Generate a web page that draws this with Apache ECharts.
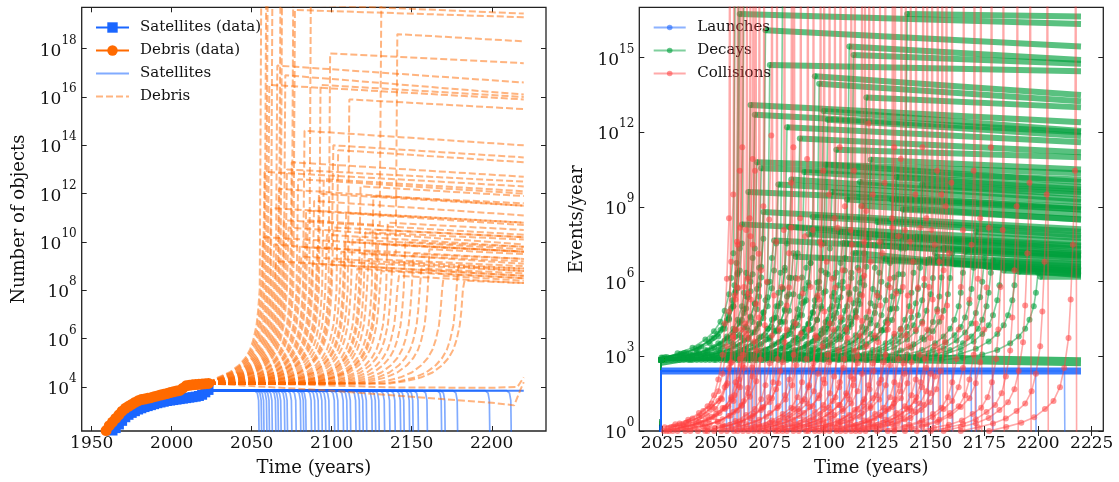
<!DOCTYPE html>
<html>
<head>
<meta charset="utf-8">
<script src="https://cdn.jsdelivr.net/npm/echarts@6/dist/echarts.min.js"></script>
<style>
  html, body { margin: 0; padding: 0; background: #fff; }
  #chart { width: 1119px; height: 482px; }
</style>
</head>
<body>
<div id="chart"></div>
<script>
// all values are log10 of the plotted quantity

// observed catalogue (left panel)
const dataYears = [1959, 1961, 1963, 1965, 1967, 1969, 1971, 1973, 1975, 1977, 1979, 1981, 1983, 1985, 1987, 1989, 1991,
  1993, 1995, 1997, 1999, 2001, 2003, 2005, 2007, 2009, 2011, 2013, 2015, 2017, 2019, 2021, 2023];
const satData = [1.9, 2.05, 2.2, 2.3, 2.45, 2.6, 2.75, 2.85, 2.93, 3.0, 3.07, 3.12, 3.17, 3.21, 3.25, 3.29, 3.33,
  3.36, 3.39, 3.42, 3.44, 3.46, 3.48, 3.5, 3.52, 3.54, 3.56, 3.58, 3.6, 3.63, 3.68, 3.78, 3.88];
const debrisData = [2.2, 2.4, 2.55, 2.7, 2.85, 3.0, 3.12, 3.2, 3.28, 3.36, 3.43, 3.48, 3.5, 3.53, 3.56, 3.6, 3.63,
  3.67, 3.7, 3.73, 3.77, 3.8, 3.83, 3.86, 3.95, 4.05, 4.07, 4.09, 4.1, 4.11, 4.12, 4.14, 4.15];

// simulated runs: satellites hold a level, then crash in these years
const satLevel = 3.85;
const satCrashYears = [2054.7, 2056.3, 2057.8, 2059.6, 2061.2, 2063, 2065.2, 2066.8, 2068.5, 2070.8, 2072.5, 2075.2,
  2077.9, 2080.8, 2082.6, 2084.1, 2087.5, 2089.7, 2091.9, 2094.2, 2096.4, 2098.6, 2102, 2104.2, 2107.5, 2109.8,
  2112, 2115.3, 2117.6, 2119.8, 2122, 2125.4, 2127.6, 2129.8, 2133.2, 2136.5, 2139.8, 2143.2, 2145.4, 2148.8,
  2151, 2154.3, 2159.9, 2168.8, 2171, 2178.8, 2198.9, 2212.3];
const satDropDt = [-3, -1.2, -0.4, 0];
const satDropLevel = [3.85, 3.75, 3.45, 1.5];

// debris runs: shared run-up shape before the blow-up year, then each run's own tail
const debrisBase = 4.15;
const runupDt = [-45, -35, -26, -19, -13, -9, -6, -4, -2, -1, 0];
const runupRise = [0.0, 0.1, 0.25, 0.45, 0.75, 1.05, 1.4, 1.8, 2.4, 3.0, 3.9];
const debrisRuns = [
  [2055, [[2056, 21.0]]],
  [2056, [[2057, 10.2], [2220, 9.6]]],
  [2057, [[2058, 12.9], [2220, 12.3]]],
  [2058, [[2059, 19.9], [2220, 19.45]]],
  [2059, [[2060, 21.0]]],
  [2060, [[2061, 16.5], [2220, 15.9]]],
  [2061, [[2062, 11.4], [2220, 10.8]]],
  [2062, [[2063, 21.5]]],
  [2063, [[2064, 9.9], [2100, 9.7], [2101, 14.0], [2220, 13.5]]],
  [2064, [[2065, 9.2], [2220, 8.6]]],
  [2065, [[2066, 17.3], [2220, 16.6]]],
  [2066, [[2067, 12.2], [2220, 11.5]]],
  [2067, [[2068, 21.0]]],
  [2068, [[2069, 21.0]]],
  [2069, [[2070, 10.9], [2220, 10.3]]],
  [2070, [[2071, 16.9], [2220, 16.1]]],
  [2071, [[2072, 13.0], [2220, 12.5]]],
  [2072, [[2073, 10.6], [2220, 9.9]]],
  [2074, [[2075, 13.3], [2220, 12.7]]],
  [2075, [[2076, 21.0]]],
  [2076, [[2077, 19.6], [2220, 19.3]]],
  [2078, [[2079, 12.6], [2220, 12.0]]],
  [2079, [[2080, 9.8], [2220, 9.3]]],
  [2080, [[2081, 9.4], [2220, 8.8]]],
  [2082, [[2083, 14.6], [2220, 14.0]]],
  [2083, [[2084, 11.3], [2220, 10.7]]],
  [2084, [[2085, 10.9], [2130, 10.7], [2131, 19.9]]],
  [2086, [[2087, 21.0]]],
  [2087, [[2088, 9.1], [2220, 8.6]]],
  [2088, [[2089, 11.7], [2220, 11.1]]],
  [2090, [[2091, 9.8], [2140, 9.5], [2141, 18.6], [2220, 18.3]]],
  [2091, [[2092, 12.0], [2220, 11.5]]],
  [2092, [[2093, 16.5], [2220, 16.0]]],
  [2094, [[2095, 12.6], [2220, 12.1]]],
  [2096, [[2097, 10.3], [2220, 9.8]]],
  [2098, [[2099, 17.8], [2220, 17.4]]],
  [2099, [[2100, 9.2], [2220, 8.8]]],
  [2100, [[2101, 10.6], [2220, 10.2]]],
  [2103, [[2104, 13.8], [2220, 13.3]]],
  [2105, [[2106, 9.6], [2220, 9.1]]],
  [2107, [[2108, 10.0], [2220, 9.6]]],
  [2108, [[2109, 11.2], [2220, 10.8]]],
  [2110, [[2111, 15.9], [2220, 15.5]]],
  [2112, [[2113, 10.1], [2220, 9.7]]],
  [2115, [[2116, 8.9], [2220, 8.5]]],
  [2117, [[2118, 12.3], [2220, 11.9]]],
  [2118, [[2119, 9.5], [2220, 9.2]]],
  [2120, [[2121, 10.4], [2220, 10.1]]],
  [2122, [[2123, 9.3], [2220, 9.0]]],
  [2125, [[2126, 11.9], [2220, 11.6]]],
  [2127, [[2128, 10.5], [2220, 10.2]]],
  [2128, [[2129, 9.9], [2220, 9.6]]],
  [2130, [[2131, 8.8], [2220, 8.5]]],
  [2134, [[2135, 10.8], [2220, 10.5]]],
  [2137, [[2138, 9.2], [2220, 8.9]]],
  [2141, [[2142, 8.6], [2220, 8.3]]],
  [2145, [[2146, 10.0], [2220, 9.8]]],
  [2150, [[2151, 9.5], [2220, 9.3]]],
  [2155, [[2156, 8.9], [2220, 8.7]]],
  [2160, [[2161, 9.7], [2220, 9.5]]],
  [2169, [[2170, 8.6], [2220, 8.4]]],
  [2178, [[2179, 9.0], [2220, 8.9]]],
  [2182, [[2183, 8.4], [2220, 8.3]]]
];
const quietRunA = [[2023, 4.15], [2060, 4.0], [2100, 3.85], [2150, 3.6], [2200, 3.35], [2214, 3.24], [2218, 3.9], [2220, 4.2]];
const quietRunB = [[2023, 4.15], [2080, 4.1], [2140, 3.98], [2200, 3.97], [2216, 4.0], [2220, 4.4]];

// right panel: event rates per run  [blow-up year, run-up steepness, tail]
const launchLevel = 2.41;
const decayBase = 2.85;
const decayRuns = [
  [2058, 1.1, [[2059, 20.0]]],
  [2059.5, 1.0, [[2060.5, 17.5]]],
  [2060, 0.9, [[2061, 16.75], [2220, 16.35]]],
  [2061, 1.15, [[2062, 8.3], [2220, 7.6]]],
  [2062, 1.2, [[2063, 18.5]]],
  [2064, 0.9, [[2065, 9.6], [2220, 9.0]]],
  [2065, 0.85, [[2066, 13.1], [2220, 12.4]]],
  [2067, 1.05, [[2068, 12.7], [2220, 12.0]]],
  [2068, 1.15, [[2069, 10.8], [2220, 10.35]]],
  [2070, 0.95, [[2071, 10.55], [2220, 10.1]]],
  [2071, 0.85, [[2072, 8.8], [2220, 8.1]]],
  [2072, 1.25, [[2073, 16.1], [2220, 15.45]]],
  [2074, 0.8, [[2075, 14.7], [2220, 14.45]]],
  [2076, 1.05, [[2077, 7.65], [2220, 7.05]]],
  [2078, 1.2, [[2079, 9.9], [2220, 9.2]]],
  [2080, 0.9, [[2081, 18.0]]],
  [2082, 0.95, [[2083, 12.2], [2220, 11.6]]],
  [2083, 1.2, [[2084, 8.2], [2220, 7.15]]],
  [2084, 0.85, [[2085, 10.1], [2220, 9.3]]],
  [2086, 1.1, [[2087, 7.0], [2220, 6.5]]],
  [2088, 1.1, [[2089, 11.75], [2220, 11.2]]],
  [2090, 0.85, [[2091, 10.4], [2220, 9.7]]],
  [2092, 0.95, [[2093, 7.9], [2220, 7.4]]],
  [2094, 1.0, [[2095, 8.6], [2220, 8.0]]],
  [2095, 1.3, [[2096, 14.25], [2220, 13.5]]],
  [2097, 0.8, [[2098, 13.95], [2220, 13.25]]],
  [2099, 1.05, [[2100, 12.85], [2220, 12.05]]],
  [2100, 1.2, [[2101, 10.7], [2220, 10.0]]],
  [2101, 0.9, [[2102, 12.5], [2220, 11.85]]],
  [2103, 1.15, [[2104, 9.6], [2220, 8.9]]],
  [2105, 0.85, [[2106, 11.3], [2220, 11.0]]],
  [2106, 0.9, [[2107, 8.0], [2220, 7.3]]],
  [2108, 1.0, [[2109, 7.55], [2220, 6.9]]],
  [2110, 1.05, [[2111, 9.3], [2220, 8.7]]],
  [2111, 1.2, [[2112, 15.45], [2220, 14.9]]],
  [2113, 0.9, [[2114, 15.1], [2220, 14.75]]],
  [2114, 1.1, [[2115, 7.15], [2220, 6.25]]],
  [2116, 0.95, [[2117, 10.0], [2220, 9.5]]],
  [2117, 0.8, [[2118, 9.05], [2220, 8.5]]],
  [2119, 1.1, [[2120, 13.4], [2220, 13.0]]],
  [2121, 1.25, [[2122, 10.9], [2220, 10.5]]],
  [2124, 0.95, [[2125, 8.4], [2220, 7.85]]],
  [2126, 0.9, [[2127, 7.6], [2220, 7.1]]],
  [2128, 1.05, [[2129, 6.9], [2220, 6.45]]],
  [2131, 1.0, [[2132, 9.3], [2220, 8.9]]],
  [2133, 0.85, [[2134, 10.2], [2220, 9.8]]],
  [2136, 1.15, [[2137, 8.9], [2220, 8.5]]],
  [2138, 1.15, [[2139, 16.75], [2220, 16.65]]],
  [2142, 0.9, [[2143, 7.8], [2220, 7.45]]],
  [2145, 0.95, [[2146, 9.9], [2220, 9.6]]],
  [2148, 1.0, [[2149, 6.9], [2220, 6.6]]],
  [2152, 1.1, [[2153, 7.0], [2220, 6.7]]],
  [2155, 0.85, [[2156, 7.35], [2220, 7.05]]],
  [2160, 1.1, [[2161, 6.7], [2220, 6.4]]],
  [2165, 0.9, [[2166, 7.2], [2220, 6.95]]],
  [2170, 0.95, [[2171, 8.0], [2220, 7.75]]],
  [2175, 1.05, [[2176, 6.6], [2220, 6.45]]],
  [2178, 0.9, [[2179, 6.85], [2220, 6.7]]],
  [2183, 1.0, [[2184, 6.45], [2220, 6.35]]],
  [2190, 1.0, [[2191, 6.4], [2220, 6.3]]],
  [2200, 0.9, [[2201, 6.2], [2220, 6.2]]]
];
const decayBand = [[2024.4, 2.8], [2035, 2.95], [2060, 3.0], [2140, 2.9], [2220, 2.78]];
// [spike year, run-up steepness]
const collisionRuns = [[2056, 0.9], [2058, 1.0], [2059.7, 0.8], [2061, 1.1], [2062.2, 1.2], [2064, 0.85],
  [2065.6, 0.9], [2067, 1.15], [2068.1, 1.1], [2069.8, 0.75], [2072, 0.95], [2075.7, 1.25], [2078, 0.8],
  [2081.5, 0.85], [2084.9, 1.05], [2086, 1.2], [2089.1, 0.9], [2092.4, 1.15], [2095, 0.85], [2098.3, 0.8],
  [2100, 1.1], [2102.5, 1.0], [2105, 0.9], [2107.6, 1.2], [2110, 0.95], [2112.6, 0.85], [2114.3, 1.1],
  [2117.6, 0.95], [2119, 0.8], [2121, 1.3], [2123, 1.0], [2126, 0.8], [2128.5, 1.05], [2131.9, 0.9],
  [2133, 1.2], [2136, 1.15], [2138, 0.85], [2140.3, 0.8], [2142.8, 1.0], [2146.1, 1.2], [2148, 0.9],
  [2150.3, 0.85], [2152.9, 1.1], [2155, 1.0], [2157, 0.95], [2159.6, 1.05], [2165, 0.85], [2170, 1.1],
  [2173, 0.9], [2178, 1.2], [2183.5, 0.85], [2190, 0.95], [2196, 1.05], [2204, 1.0], [2217.2, 1.1]];
const collRunupDt = [-40, -32, -25, -19, -14, -10, -7, -5, -3, -2, -1, 0];
const collRunupLevel = [0.0, 0.15, 0.3, 0.5, 0.8, 1.1, 1.6, 2.3, 3.4, 4.8, 6.8, 9.5];

const leftTicksX = [1950, 2000, 2050, 2100, 2150, 2200];
const leftTicksY = [4, 6, 8, 10, 12, 14, 16, 18];
const rightTicksX = [2025, 2050, 2075, 2100, 2125, 2150, 2175, 2200, 2225];
const rightTicksY = [0, 3, 6, 9, 12, 15];

const serif = 'DejaVu Serif';
const ink = '#111';
const BLUE = '#1a66ff', ORANGE = '#ff6a00', GREEN = '#00a03c', RED = '#ff4040';

function runup(base, T, dts, rises, startYear, k) {
  const pts = [[startYear, base]];
  dts.forEach((d, i) => {
    if (T + d > startYear) pts.push([T + d, base + rises[i] * (k || 1)]);
  });
  return pts;
}

const powLabel = v => '{b|10}{s|' + v + '}';
const powRich = {
  b: { fontFamily: serif, fontSize: 17, color: ink, lineHeight: 17, padding: [8, 0, 3, 0] },
  s: { fontFamily: serif, fontSize: 12, color: ink, lineHeight: 12, padding: [0, 0, 16, 0] }
};

function xPair(grid, min, max, ticks) {
  const tick = { inside: true, length: 5, customValues: ticks, lineStyle: { color: '#222' } };
  return [
    { gridIndex: grid, type: 'value', min, max, position: 'bottom',
      axisLine: { show: false }, splitLine: { show: false }, axisTick: tick,
      axisLabel: { customValues: ticks, formatter: v => String(v), fontFamily: serif, fontSize: 17, color: ink, margin: 4 },
      name: 'Time (years)', nameLocation: 'middle', nameGap: 28,
      nameTextStyle: { fontFamily: serif, fontSize: 18, color: ink } },
    { gridIndex: grid, type: 'value', min, max, position: 'top',
      axisLine: { show: false }, splitLine: { show: false }, axisTick: tick, axisLabel: { show: false } }
  ];
}
function yPair(grid, min, max, ticks, title) {
  const tick = { inside: true, length: 5, customValues: ticks, lineStyle: { color: '#222' } };
  return [
    { gridIndex: grid, type: 'value', min, max, position: 'left',
      axisLine: { show: false }, splitLine: { show: false }, axisTick: tick,
      axisLabel: { customValues: ticks, formatter: powLabel, rich: powRich, margin: 5 },
      name: title, nameLocation: 'middle', nameGap: 53,
      nameTextStyle: { fontFamily: serif, fontSize: 18, color: ink } },
    { gridIndex: grid, type: 'value', min, max, position: 'right',
      axisLine: { show: false }, splitLine: { show: false }, axisTick: tick, axisLabel: { show: false } }
  ];
}

const series = [];
const L = { xAxisIndex: 0, yAxisIndex: 0 };
const R = { xAxisIndex: 2, yAxisIndex: 2 };

// left: observed
series.push({ ...L, name: 'Satellites (data)', type: 'line', data: dataYears.map((y, i) => [y, satData[i]]),
  symbol: 'rect', symbolSize: 10, showAllSymbol: true, z: 5,
  lineStyle: { color: BLUE, width: 2.5 }, itemStyle: { color: BLUE } });
series.push({ ...L, name: 'Debris (data)', type: 'line', data: dataYears.map((y, i) => [y, debrisData[i]]),
  symbol: 'circle', symbolSize: 11, showAllSymbol: true, z: 6,
  lineStyle: { color: ORANGE, width: 2.5 }, itemStyle: { color: ORANGE } });

// left: simulated satellites
satCrashYears.forEach(c => {
  const pts = [[2021.5, satLevel]];
  satDropDt.forEach((d, i) => pts.push([c + d, satDropLevel[i]]));
  series.push({ ...L, name: 'Satellites', type: 'line', data: pts, symbol: 'none', z: 3,
    lineStyle: { color: BLUE, width: 1.7, opacity: 0.55 }, itemStyle: { color: BLUE, opacity: 0.55 } });
});
series.push({ ...L, name: 'Satellites', type: 'line', data: [[2021.5, satLevel], [2220, satLevel]], symbol: 'none', z: 3,
  lineStyle: { color: BLUE, width: 2, opacity: 0.8 } });

// left: simulated debris
const debrisStyle = { color: ORANGE, width: 2, type: [7, 3], opacity: 0.5 };
debrisRuns.forEach(([T, tail]) => {
  series.push({ ...L, name: 'Debris', type: 'line', symbol: 'none', z: 4,
    data: runup(debrisBase, T, runupDt, runupRise, 2023).concat(tail),
    lineStyle: debrisStyle, itemStyle: { color: ORANGE, opacity: 0.5 } });
});
[quietRunA, quietRunB].forEach(run => {
  series.push({ ...L, name: 'Debris', type: 'line', symbol: 'none', z: 4, data: run,
    lineStyle: debrisStyle, itemStyle: { color: ORANGE, opacity: 0.5 } });
});

// right: launches
satCrashYears.forEach(c => {
  series.push({ ...R, name: 'Launches', type: 'line', symbol: 'circle', symbolSize: 5, showSymbol: false, z: 3,
    data: [[2024, -2], [2024.4, launchLevel], [c, launchLevel], [c + 0.3, -2]],
    lineStyle: { color: BLUE, width: 1.6, opacity: 0.5 }, itemStyle: { color: BLUE, opacity: 0.6 } });
});
series.push({ ...R, name: 'launch band', type: 'line', symbol: 'none', z: 3,
  data: [[2024.4, launchLevel], [2220, launchLevel]], lineStyle: { color: BLUE, width: 7, opacity: 0.85 } });

// right: decays
decayRuns.forEach(([T, k, tail]) => {
  const up = [[2024, -2]].concat(runup(decayBase, T, runupDt, runupRise, 2024.4, k), [tail[0]]);
  series.push({ ...R, name: 'Decays', type: 'line', symbol: 'circle', symbolSize: 6, showAllSymbol: true, z: 2,
    data: up, lineStyle: { color: GREEN, width: 1.6, opacity: 0.5 }, itemStyle: { color: GREEN, opacity: 0.6 } });
  if (tail.length > 1) {
    series.push({ ...R, name: 'decay plateau', type: 'line', symbol: 'none', z: 2, data: tail,
      lineStyle: { color: GREEN, width: 6, opacity: 0.65 } });
  }
});
series.push({ ...R, name: 'decay band', type: 'line', symbol: 'none', z: 2, data: decayBand,
  lineStyle: { color: GREEN, width: 9, opacity: 0.75 } });

// right: collisions
collisionRuns.forEach(([T, k]) => {
  const pts = [];
  collRunupDt.forEach((d, i) => { if (T + d >= 2025) pts.push([T + d, collRunupLevel[i] * k]); });
  pts.push([T + 0.4, 25], [T + 0.8, -3]);
  series.push({ ...R, name: 'Collisions', type: 'line', symbol: 'circle', symbolSize: 6, showAllSymbol: true, z: 4,
    data: pts, lineStyle: { color: RED, width: 1.6, opacity: 0.45 }, itemStyle: { color: RED, opacity: 0.55 } });
});

const legendText = { fontFamily: serif, fontSize: 15, color: ink, lineHeight: 14, padding: [0, 0, 0, 6] };
const hideMark = { opacity: 0 };

const chart = echarts.init(document.getElementById('chart'), null, { renderer: 'canvas' });
chart.setOption({
  animation: false,
  backgroundColor: '#fff',
  textStyle: { fontFamily: serif },
  grid: [
    { left: 81.7, top: 7.3, width: 464.3, height: 423.7, show: true, borderColor: '#222', borderWidth: 1.3 },
    { left: 639.3, top: 7.3, width: 464, height: 423.7, show: true, borderColor: '#222', borderWidth: 1.3 }
  ],
  xAxis: xPair(0, 1943.75, 2233.9, leftTicksX).concat(xPair(1, 2014.2, 2230.4, rightTicksX)),
  yAxis: yPair(0, 2.18, 19.71, leftTicksY, 'Number of objects').concat(yPair(1, 0, 17.02, rightTicksY, 'Events/year')),
  legend: [
    { left: 90, top: 15, orient: 'vertical', itemWidth: 33, itemHeight: 13, itemGap: 8, selectedMode: false,
      textStyle: legendText,
      data: ['Satellites (data)', 'Debris (data)',
        { name: 'Satellites', itemStyle: hideMark }, { name: 'Debris', itemStyle: hideMark }] },
    { left: 647.7, top: 15, orient: 'vertical', itemWidth: 32, itemHeight: 7, itemGap: 8, selectedMode: false,
      textStyle: { ...legendText, padding: [0, 0, 0, 6.5] }, data: ['Launches', 'Decays', 'Collisions'] }
  ],
  series
});
</script>
</body>
</html>
